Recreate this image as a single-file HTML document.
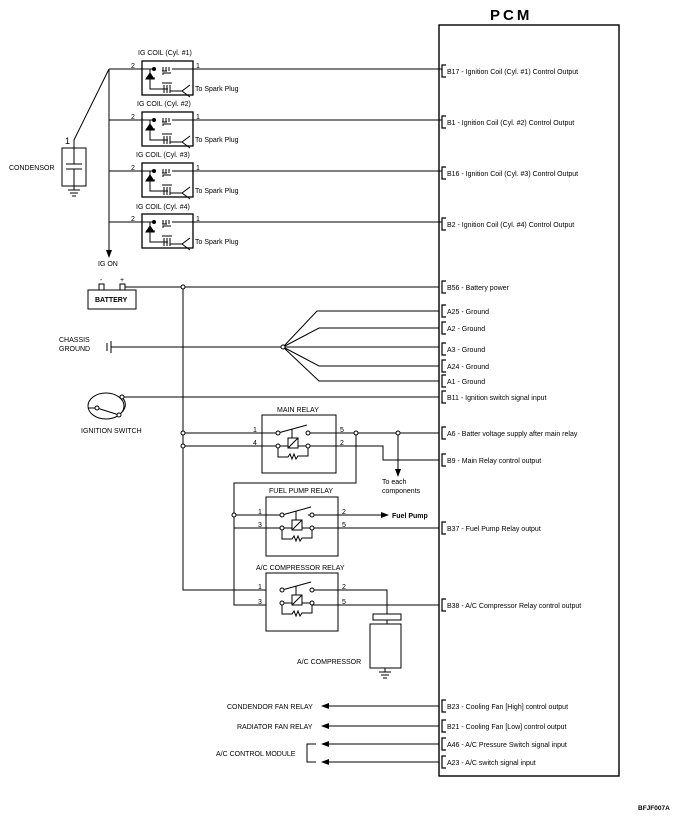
<!DOCTYPE html>
<html><head><meta charset="utf-8"><style>
html,body{margin:0;padding:0;background:#fff}
svg{display:block}
text{font-family:"Liberation Sans",sans-serif;font-size:7px;fill:#000}
.b{font-weight:bold}
</style></head><body>
<svg width="684" height="817" viewBox="0 0 684 817" xmlns="http://www.w3.org/2000/svg">
<defs>
<g id="coil" stroke="#000" fill="none" stroke-width="1">
<rect x="0" y="0" width="51" height="34" stroke-width="1.3"/>
<path d="M-33 8 H12 M8 8 V28 H20 M4 17 H13"/>
<path d="M8 12 l-4 6 h8 z" fill="#000"/>
<path d="M20 10 h5 M21 6 v4 M24 6 v4 M27 6 v4 M21 14 v-2 h8 M30 8 H300"/>
<path d="M20 28 h6 M22 24 v8 M25 24 v8 M28 24 v8 M20 22 h10"/>
<path d="M28 30 H40 L48 24 M40 30 L48 36" />
<circle cx="12" cy="8" r="1.5" fill="#000"/>
</g>
<g id="relay" stroke="#000" fill="none" stroke-width="1">
<path d="M16 17 L45 9 M30 13 V22"/>
<rect x="26" y="22" width="10" height="10"/>
<path d="M26 32 L36 22"/>
<path d="M16 30 H26 M36 30 H46 M16 30 V41 H26 l2 -3 l2 5 l2 -5 l2 5 l2 -3 H46 V30"/>
<circle cx="16" cy="17" r="2" fill="#fff"/>
<circle cx="46" cy="17" r="2" fill="#fff"/>
<circle cx="16" cy="30" r="2" fill="#fff"/>
<circle cx="46" cy="30" r="2" fill="#fff"/>
</g>
<g id="br" stroke="#000" fill="none" stroke-width="1.2"><path d="M4 -6 H0 V6 H4"/></g>
<marker id="ar" markerWidth="8" markerHeight="6" refX="7" refY="3" orient="auto" markerUnits="userSpaceOnUse"><path d="M0 0 L8 3 L0 6 z" fill="#000"/></marker>
</defs>

<text x="490" y="20" style="font-size:15px;letter-spacing:3px" class="b">PCM</text>
<rect x="439" y="25" width="180" height="751" fill="none" stroke="#000" stroke-width="1.4"/>

<g stroke="#000" stroke-width="1" fill="none">
<path d="M109 69 V252" />
<path d="M109 69 L74 140 V148"/>
<path d="M109 252 V257" marker-end="url(#ar)"/>
<path d="M109 120 H142 M109 171 H142 M109 222 H142 M109 69 H142"/>
<rect x="62" y="148" width="24" height="38"/>
<path d="M74 148 V164 M66 164 H82 M66 169 H82 M74 169 V190 M68 190 H80 M70 193 H78 M72 196 H76"/>
<rect x="88" y="290" width="48" height="19"/>
<rect x="99" y="284" width="5" height="6"/><rect x="120" y="284" width="5" height="6"/>
<path d="M125 287 H439 M183 287 V590 H266"/>
<path d="M107 343 V351 M111 341 V353 M111 347 H283"/>
<path d="M283 347 L317 311 H439 M283 347 L319 328 H439 M283 347 H439 M283 347 L319 366 H439 M283 347 L319 381 H439"/>
<ellipse cx="106" cy="406" rx="18" ry="13"/>
<path d="M122 397 Q130 406 119 415"/>
<path d="M88 408 H97 L119 415"/>
<path d="M122 397 H439"/>
<rect x="262" y="415" width="74" height="58"/>
<path d="M183 433 H278 M183 446 H278 M308 433 H439 M308 446 H383 V460 H439"/>
<path d="M398 433 V476" marker-end="url(#ar)"/>
<path d="M356 433 V483 H234 V605 H266"/>
<rect x="266" y="497" width="72" height="59"/>
<path d="M234 515 H282 M308 515 H385" /><path d="M370 515 H388" marker-end="url(#ar)"/>
<path d="M234 528 H282 M312 528 H439"/>
<rect x="266" y="573" width="72" height="58"/>
<path d="M312 590 H387 V614 M312 605 H439"/>
<rect x="373" y="614" width="28" height="6"/>
<path d="M387 620 V624"/>
<rect x="370" y="624" width="31" height="44"/>
<path d="M385 668 V672 M379 672 H391 M381 675 H389 M383 678 H387"/>
<path d="M439 706 H322" marker-end="url(#ar)"/>
<path d="M439 726 H322" marker-end="url(#ar)"/>
<path d="M439 744 H322" marker-end="url(#ar)"/>
<path d="M439 762 H322" marker-end="url(#ar)"/>
<path d="M316 744 H307 V762 H316"/>
</g>
<g fill="#fff" stroke="#000">
<circle cx="183" cy="287" r="2"/><circle cx="283" cy="347" r="2"/>
<circle cx="183" cy="433" r="2"/><circle cx="183" cy="446" r="2"/>
<circle cx="356" cy="433" r="2"/><circle cx="398" cy="433" r="2"/>
<circle cx="234" cy="515" r="2"/>
<circle cx="122" cy="397" r="2"/><circle cx="119" cy="415" r="2"/><circle cx="97" cy="408" r="2"/>
</g>

<use href="#coil" transform="translate(142,61)"/>
<use href="#coil" transform="translate(142,112)"/>
<use href="#coil" transform="translate(142,163)"/>
<use href="#coil" transform="translate(142,214)"/>
<use href="#relay" transform="translate(262,416)"/>
<use href="#relay" transform="translate(266,498)"/>
<use href="#relay" transform="translate(266,573)"/>

<g>
<use href="#br" transform="translate(442,71)"/><use href="#br" transform="translate(442,122)"/>
<use href="#br" transform="translate(442,173)"/><use href="#br" transform="translate(442,224)"/>
<use href="#br" transform="translate(442,287)"/><use href="#br" transform="translate(442,311)"/>
<use href="#br" transform="translate(442,328)"/><use href="#br" transform="translate(442,349)"/>
<use href="#br" transform="translate(442,366)"/><use href="#br" transform="translate(442,381)"/>
<use href="#br" transform="translate(442,397)"/><use href="#br" transform="translate(442,433)"/>
<use href="#br" transform="translate(442,460)"/><use href="#br" transform="translate(442,528)"/>
<use href="#br" transform="translate(442,605)"/><use href="#br" transform="translate(442,706)"/>
<use href="#br" transform="translate(442,726)"/><use href="#br" transform="translate(442,744)"/>
<use href="#br" transform="translate(442,762)"/>
</g>

<text x="138" y="55">IG COIL (Cyl. #1)</text>
<text x="137" y="106">IG COIL (Cyl. #2)</text>
<text x="136" y="157">IG COIL (Cyl. #3)</text>
<text x="136" y="209">IG COIL (Cyl. #4)</text>
<g>
<text x="131" y="68">2</text><text x="196" y="68">1</text><text x="195" y="91">To Spark Plug</text>
<text x="131" y="119">2</text><text x="196" y="119">1</text><text x="195" y="142">To Spark Plug</text>
<text x="131" y="170">2</text><text x="196" y="170">1</text><text x="195" y="193">To Spark Plug</text>
<text x="131" y="221">2</text><text x="196" y="221">1</text><text x="195" y="244">To Spark Plug</text>
</g>
<text x="65" y="144" style="font-size:9px">1</text>
<text x="9" y="170">CONDENSOR</text>
<text x="98" y="266">IG ON</text>
<text x="100" y="282">-</text><text x="120" y="282">+</text>
<text x="95" y="302" class="b">BATTERY</text>
<text x="59" y="342">CHASSIS</text><text x="59" y="351">GROUND</text>
<text x="81" y="433">IGNITION SWITCH</text>
<text x="277" y="412">MAIN RELAY</text>
<text x="253" y="432">1</text><text x="253" y="445">4</text><text x="340" y="432">5</text><text x="340" y="445">2</text>
<text x="382" y="484">To each</text><text x="382" y="493">components</text>
<text x="269" y="493">FUEL PUMP RELAY</text>
<text x="258" y="514">1</text><text x="258" y="527">3</text><text x="342" y="514">2</text><text x="342" y="527">5</text>
<text x="392" y="518" class="b">Fuel Pump</text>
<text x="256" y="570">A/C COMPRESSOR RELAY</text>
<text x="258" y="589">1</text><text x="258" y="604">3</text><text x="342" y="589">2</text><text x="342" y="604">5</text>
<text x="297" y="664">A/C COMPRESSOR</text>
<text x="447" y="74">B17 - Ignition Coil (Cyl. #1) Control Output</text>
<text x="447" y="125">B1 - Ignition Coil (Cyl. #2) Control Output</text>
<text x="447" y="176">B16 - Ignition Coil (Cyl. #3) Control Output</text>
<text x="447" y="227">B2 - Ignition Coil (Cyl. #4) Control Output</text>
<text x="447" y="290">B56 - Battery power</text>
<text x="447" y="314">A25 - Ground</text>
<text x="447" y="331">A2 - Ground</text>
<text x="447" y="352">A3 - Ground</text>
<text x="447" y="369">A24 - Ground</text>
<text x="447" y="384">A1 - Ground</text>
<text x="447" y="400">B11 - Ignition switch signal input</text>
<text x="447" y="436">A6 - Batter voltage supply after main relay</text>
<text x="447" y="463">B9 - Main Relay control output</text>
<text x="447" y="531">B37 - Fuel Pump Relay output</text>
<text x="447" y="608">B38 - A/C Compressor Relay control output</text>
<text x="447" y="709">B23 - Cooling Fan [High] control output</text>
<text x="447" y="729">B21 - Cooling Fan [Low] control output</text>
<text x="447" y="747">A46 - A/C Pressure Switch signal input</text>
<text x="447" y="765">A23 - A/C switch signal input</text>
<text x="227" y="709">CONDENDOR FAN RELAY</text>
<text x="237" y="729">RADIATOR FAN RELAY</text>
<text x="216" y="756">A/C CONTROL MODULE</text>
<text x="638" y="810" style="font-size:6.5px" class="b">BFJF007A</text>
</svg>
</body></html>
